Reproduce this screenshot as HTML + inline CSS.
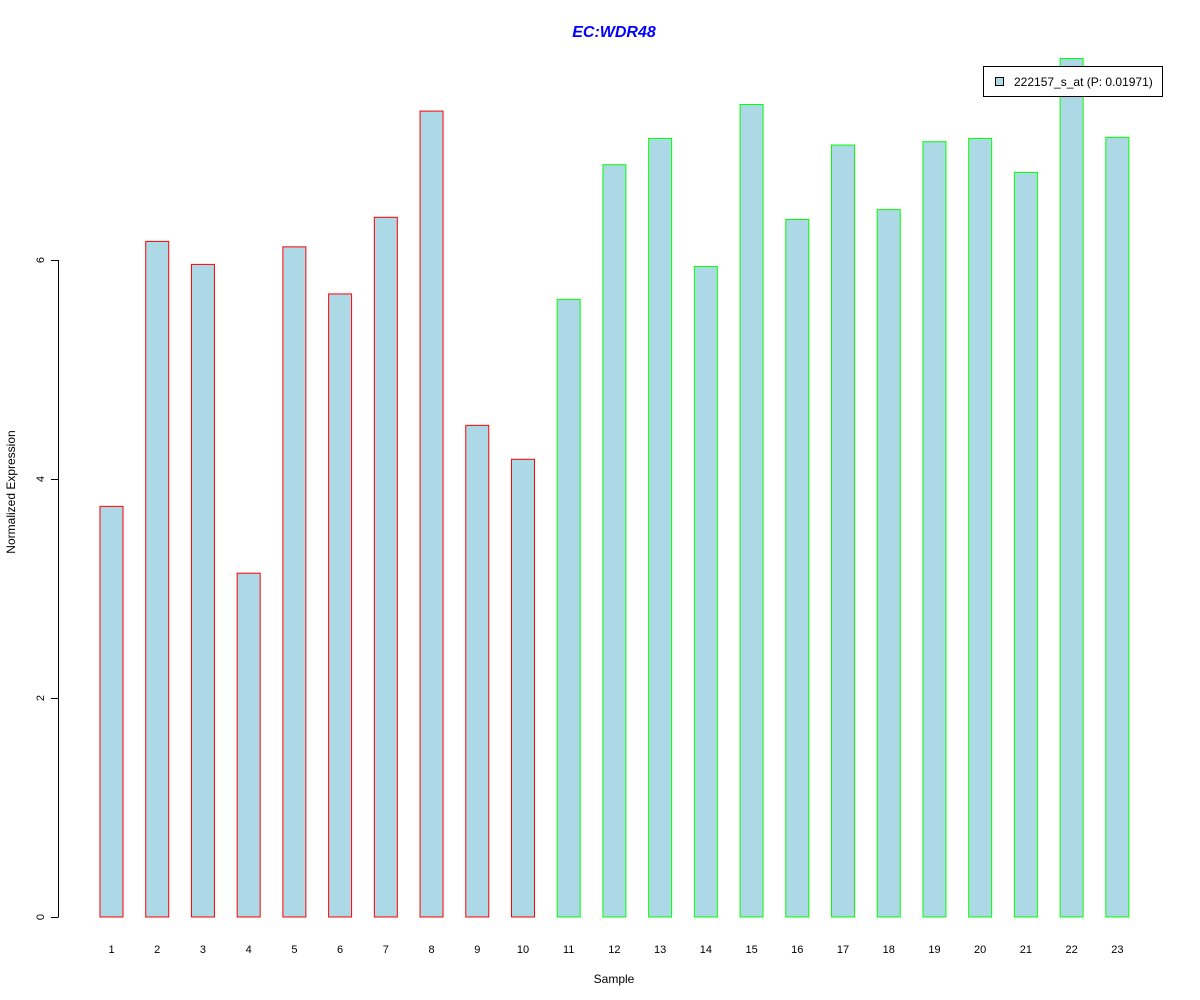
<!DOCTYPE html>
<html><head><meta charset="utf-8"><style>body{margin:0;background:#fff}svg{display:block;font-family:"Liberation Sans",sans-serif}</style></head>
<body>
<svg id="chart" width="1200" height="1000">
<text x="614" y="37" text-anchor="middle" font-size="16" font-weight="bold" font-style="italic" fill="#0000ff">EC:WDR48</text>
<text x="614" y="983" text-anchor="middle" font-size="12">Sample</text>
<text transform="translate(15,492) rotate(-90)" text-anchor="middle" font-size="12">Normalized Expression</text>
<g id="yaxis"></g>
<g id="bars"></g>
<g id="xlabels"></g>
<g>
<rect x="983.5" y="66.5" width="179" height="30" fill="#fff" stroke="#000"/>
<rect x="995.5" y="77.5" width="8" height="8" fill="#add8e6" stroke="#000"/>
<text x="1014" y="86" font-size="12">222157_s_at (P: 0.01971)</text>
</g>
</svg>
<script>
const categories = ["1","2","3","4","5","6","7","8","9","10","11","12","13","14","15","16","17","18","19","20","21","22","23"];
const values = [3.75,6.17,5.96,3.14,6.12,5.69,6.39,7.36,4.49,4.18,5.64,6.87,7.11,5.94,7.42,6.37,7.05,6.46,7.08,7.11,6.80,7.84,7.12];
const groups = ["red","red","red","red","red","red","red","red","red","red","green","green","green","green","green","green","green","green","green","green","green","green","green"];
const yTicks = [0,2,4,6];
const ns = "http://www.w3.org/2000/svg";
function y(v){return 917 - v*109.5;}
function x(i){return 111.5 + i*45.72;}
const colors = {red:"#ff0000", green:"#00ff00"};
const bars = document.getElementById("bars"), xl = document.getElementById("xlabels"), ya = document.getElementById("yaxis");
values.forEach((v,i)=>{
  const r = document.createElementNS(ns,"rect");
  
  
  r.setAttribute("x", x(i)-11.5); r.setAttribute("width", 23);
  r.setAttribute("y", y(v)); r.setAttribute("height", y(0)-y(v));
  r.setAttribute("fill","#add8e6"); r.setAttribute("stroke", colors[groups[i]]);
  bars.appendChild(r);
  const t = document.createElementNS(ns,"text");
  
  
  t.setAttribute("x", x(i)); t.setAttribute("y", 953); t.setAttribute("text-anchor","middle"); t.setAttribute("font-size","11");
  t.textContent = categories[i]; xl.appendChild(t);
});
const axl = document.createElementNS(ns,"line");


axl.setAttribute("x1",58.5);axl.setAttribute("x2",58.5);axl.setAttribute("y1",y(0));axl.setAttribute("y2",y(6));axl.setAttribute("stroke","#000");
ya.appendChild(axl);
yTicks.forEach(v=>{
  const l = document.createElementNS(ns,"line");
  
  
  l.setAttribute("x1",51);l.setAttribute("x2",58.5);l.setAttribute("y1",y(v)+0.5);l.setAttribute("y2",y(v)+0.5);l.setAttribute("stroke","#000");
  ya.appendChild(l);
  const t = document.createElementNS(ns,"text");
  
  
  t.setAttribute("transform","translate(44,"+y(v)+") rotate(-90)"); t.setAttribute("text-anchor","middle"); t.setAttribute("font-size","11");
  t.textContent = v; ya.appendChild(t);
});
</script>
</body></html>
